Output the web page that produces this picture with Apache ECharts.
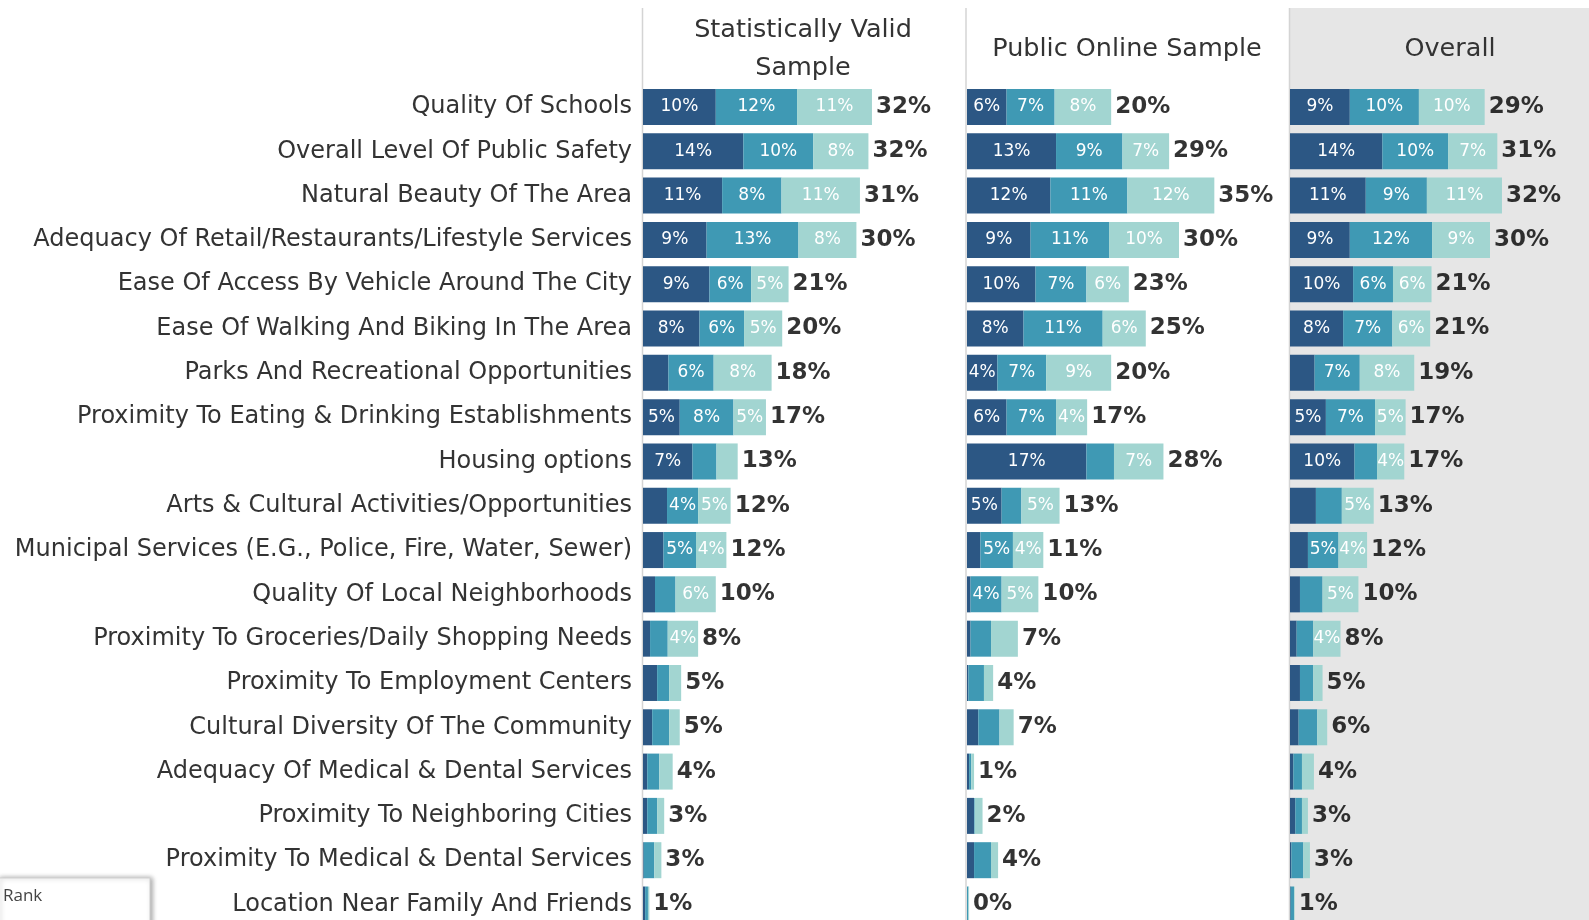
<!DOCTYPE html>
<html>
<head>
<meta charset="utf-8">
<script src="https://cdn.jsdelivr.net/npm/echarts@6/dist/echarts.min.js"></script>
<style>
	html, body { margin: 0; padding: 0; background: #ffffff; }
	#chart { width: 1589px; height: 920px; }
</style>
</head>
<body>
<div id="chart"></div>
<script>
const categories = [
	'Quality Of Schools',
	'Overall Level Of Public Safety',
	'Natural Beauty Of The Area',
	'Adequacy Of Retail/Restaurants/Lifestyle Services',
	'Ease Of Access By Vehicle Around The City',
	'Ease Of Walking And Biking In The Area',
	'Parks And Recreational Opportunities',
	'Proximity To Eating & Drinking Establishments',
	'Housing options',
	'Arts & Cultural Activities/Opportunities',
	'Municipal Services (E.G., Police, Fire, Water, Sewer)',
	'Quality Of Local Neighborhoods',
	'Proximity To Groceries/Daily Shopping Needs',
	'Proximity To Employment Centers',
	'Cultural Diversity Of The Community',
	'Adequacy Of Medical & Dental Services',
	'Proximity To Neighboring Cities',
	'Proximity To Medical & Dental Services',
	'Location Near Family And Friends'
];

const panelTitles = ['Statistically Valid\nSample', 'Public Online Sample', 'Overall'];

// Statistically Valid Sample
const svFirst = [10.3, 14.2, 11.2, 9.0, 9.4, 8.0, 3.6, 5.2, 7.0, 3.4, 2.9, 1.7, 1.0, 2.0, 1.3, 0.6, 0.6, 0.1, 0.3];
const svSecond = [11.5, 9.9, 8.4, 13.0, 5.9, 6.3, 6.4, 7.6, 3.4, 4.4, 4.6, 2.9, 2.5, 1.7, 2.4, 1.7, 1.4, 1.5, 0.4];
const svThird = [10.6, 7.8, 11.1, 8.2, 5.3, 5.4, 8.2, 4.6, 3.0, 4.6, 4.3, 5.7, 4.3, 1.7, 1.5, 1.9, 1.0, 1.0, 0.2];

// Public Online Sample
const poFirst = [5.6, 12.6, 11.8, 9.0, 9.7, 8.0, 4.3, 5.6, 16.9, 4.9, 1.9, 0.5, 0.5, 0.2, 1.6, 0.3, 1.0, 1.0, 0.0];
const poSecond = [6.8, 9.4, 10.9, 11.1, 7.2, 11.2, 6.9, 7.0, 3.9, 2.8, 4.6, 4.4, 2.9, 2.2, 3.0, 0.3, 0.1, 2.4, 0.2];
const poThird = [8.0, 6.6, 12.3, 9.9, 6.0, 6.1, 9.2, 4.4, 7.0, 5.4, 4.3, 5.2, 3.8, 1.3, 2.0, 0.4, 1.1, 1.0, 0.1];

// Overall
const ovFirst = [9.0, 13.9, 11.4, 9.0, 9.5, 8.0, 3.7, 5.4, 9.7, 3.9, 2.7, 1.5, 1.0, 1.5, 1.3, 0.5, 0.8, 0.2, 0.1];
const ovSecond = [10.4, 9.9, 9.2, 12.4, 6.0, 7.4, 6.8, 7.4, 3.4, 3.9, 4.6, 3.4, 2.5, 2.0, 2.8, 1.3, 1.0, 1.8, 0.5];
const ovThird = [9.9, 7.4, 11.3, 8.7, 5.8, 5.7, 8.2, 4.6, 4.1, 4.8, 4.3, 5.4, 4.1, 1.4, 1.5, 1.8, 0.9, 1.0, 0.1];

const panels = [
	[svFirst, svSecond, svThird],
	[poFirst, poSecond, poThird],
	[ovFirst, ovSecond, ovThird]
];

const colors = {
	first: '#2c5784',
	second: '#3f99b4',
	third: '#a2d5d1',
	text: '#333333',
	divider: '#d4d4d4',
	overallBg: '#e6e6e6'
};

const segColors = [colors.first, colors.second, colors.third];
const panelLeft = [643, 967, 1290];
const panelCenter = [803, 1127, 1450];
const baseFont = 'DejaVu Sans';

const chart = echarts.init(document.querySelector('#chart'));

const grids = [];
const xAxes = [];
const yAxes = [];
const series = [];

panels.forEach((segs, p) => {
	// first and last row centres sit on the grid edges
	grids.push({ left: panelLeft[p], top: 107, width: 318, height: 797.5 });

	xAxes.push({
		type: 'value',
		gridIndex: p,
		min: 0,
		max: 45,
		show: false
	});

	yAxes.push({
		type: 'category',
		gridIndex: p,
		inverse: true,
		boundaryGap: false,
		data: categories,
		axisLine: { show: false },
		axisTick: { show: false },
		splitLine: { show: false },
		axisLabel: {
			show: p === 0,
			margin: 11,
			color: colors.text,
			fontSize: 24,
			fontFamily: baseFont
		}
	});

	segs.forEach((values, s) => {
		series.push({
			type: 'bar',
			xAxisIndex: p,
			yAxisIndex: p,
			stack: 'panel' + p,
			barWidth: 36,
			itemStyle: { color: segColors[s] },
			label: {
				show: true,
				position: 'inside',
				color: '#ffffff',
				fontSize: 17,
				fontFamily: baseFont,
				formatter: params => (params.value >= 4 ? Math.round(params.value) + '%' : '')
			},
			data: values
		});
	});

	const totals = categories.map((c, i) => Math.round((segs[0][i] + segs[1][i] + segs[2][i]) * 10) / 10);

	series.push({
		type: 'scatter',
		xAxisIndex: p,
		yAxisIndex: p,
		symbolSize: 0,
		silent: true,
		label: {
			show: true,
			position: 'right',
			distance: 4,
			color: '#000000',
			fontSize: 23,
			fontWeight: 'bold',
			fontFamily: 'DejaVu Sans',
			formatter: params => Math.round(params.value[0]) + '%'
		},
		data: totals.map((t, i) => [t, i])
	});
});

const graphics = [
	{
		type: 'rect',
		shape: { x: 1289, y: 8, width: 300, height: 912 },
		style: { fill: colors.overallBg },
		z: -10
	},
	{
		type: 'line',
		shape: { x1: 642.5, y1: 8, x2: 642.5, y2: 920 },
		style: { stroke: colors.divider, lineWidth: 1.5 }
	},
	{
		type: 'line',
		shape: { x1: 966, y1: 8, x2: 966, y2: 920 },
		style: { stroke: colors.divider, lineWidth: 1.5 }
	},
	{
		type: 'line',
		shape: { x1: 1289.5, y1: 8, x2: 1289.5, y2: 920 },
		style: { stroke: colors.divider, lineWidth: 1.5 }
	},
	{
		type: 'rect',
		shape: { x: -2, y: 878, width: 152, height: 50 },
		style: {
			fill: '#ffffff',
			stroke: '#d0d0d0',
			lineWidth: 1,
			shadowBlur: 5,
			shadowColor: 'rgba(0,0,0,0.35)',
			shadowOffsetX: 2
		},
		z: 100
	},
	{
		type: 'text',
		style: {
			x: 3,
			y: 896,
			text: 'Rank',
			fill: '#444444',
			font: '17px "Open Sans"',
			verticalAlign: 'middle'
		},
		z: 101
	}
];

panelTitles.forEach((title, p) => {
	graphics.push({
		type: 'text',
		style: {
			x: panelCenter[p],
			y: 49,
			text: title,
			fill: colors.text,
			font: '25.5px "DejaVu Sans"',
			lineHeight: 38,
			align: 'center',
			verticalAlign: 'middle'
		}
	});
});

chart.setOption({
	animation: false,
	grid: grids,
	xAxis: xAxes,
	yAxis: yAxes,
	series,
	graphic: graphics
});

window.addEventListener('resize', () => {
	chart.resize();
});
</script>
</body>
</html>
